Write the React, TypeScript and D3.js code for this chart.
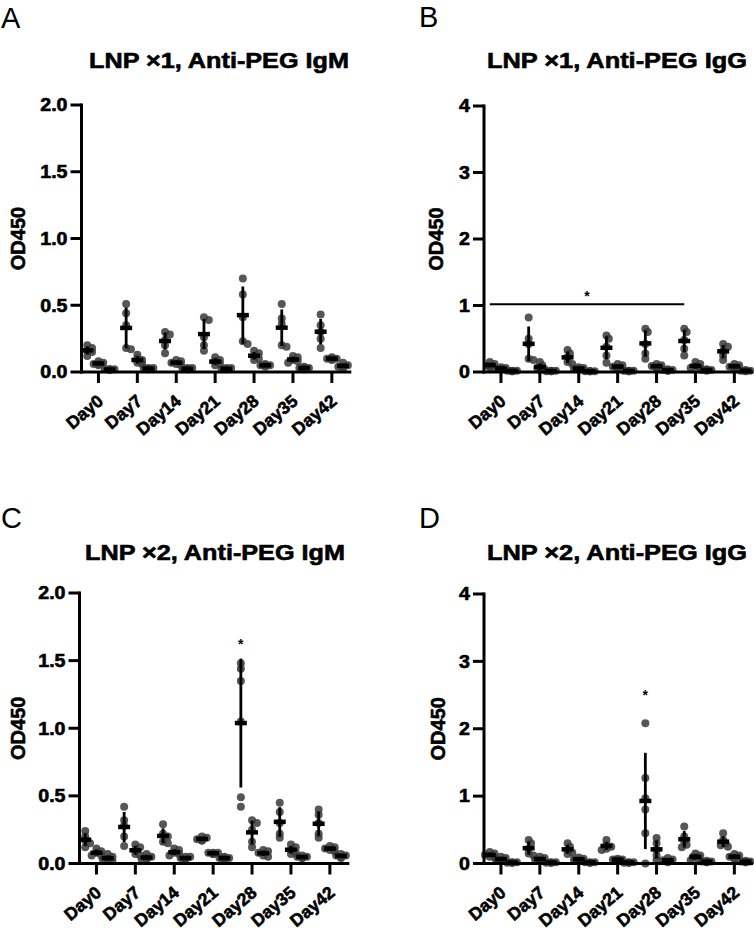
import React from "react";
import * as d3 from "d3";

const DAYS = ["Day0", "Day7", "Day14", "Day21", "Day28", "Day35", "Day42"];
const GROUPS = ["g1", "g2", "g3"];
const TICKS_IGM = [0, 0.5, 1.0, 1.5, 2.0];
const TICKS_IGG = [0, 1, 2, 3, 4];

// Panel A: LNP x1, Anti-PEG IgM
const A_G1 = [
  [0.2, 0.18, 0.16, 0.15, 0.12],
  [0.51, 0.44, 0.35, 0.18, 0.17],
  [0.3, 0.28, 0.24, 0.2, 0.14],
  [0.41, 0.39, 0.26, 0.2, 0.16],
  [0.7, 0.58, 0.41, 0.23, 0.21],
  [0.51, 0.4, 0.36, 0.2, 0.19],
  [0.43, 0.35, 0.3, 0.25, 0.18],
];
const A_G2 = [
  [0.08, 0.07, 0.06, 0.05, 0.06],
  [0.13, 0.1, 0.09, 0.07, 0.06],
  [0.09, 0.08, 0.07, 0.06, 0.05],
  [0.11, 0.09, 0.08, 0.06, 0.05],
  [0.16, 0.14, 0.12, 0.1, 0.09],
  [0.12, 0.11, 0.09, 0.08, 0.07],
  [0.11, 0.1, 0.1, 0.1, 0.09],
];
const A_G3 = [
  [0.02, 0.02, 0.02, 0.015, 0.02],
  [0.03, 0.03, 0.02, 0.03, 0.02],
  [0.03, 0.03, 0.02, 0.02, 0.02],
  [0.03, 0.02, 0.02, 0.03, 0.02],
  [0.06, 0.05, 0.05, 0.04, 0.05],
  [0.04, 0.03, 0.03, 0.03, 0.02],
  [0.07, 0.05, 0.04, 0.04, 0.03],
];

// Panel B: LNP x1, Anti-PEG IgG
const B_G1 = [
  [0.15, 0.12, 0.1, 0.08, 0.07],
  [0.82, 0.5, 0.42, 0.2, 0.18],
  [0.33, 0.28, 0.22, 0.15, 0.12],
  [0.55, 0.5, 0.38, 0.25, 0.14],
  [0.65, 0.6, 0.42, 0.28, 0.2],
  [0.65, 0.6, 0.48, 0.35, 0.25],
  [0.42, 0.38, 0.32, 0.25, 0.18],
];
const B_G2 = [
  [0.07, 0.06, 0.05, 0.04, 0.05],
  [0.15, 0.1, 0.06, 0.04, 0.03],
  [0.07, 0.06, 0.05, 0.04, 0.04],
  [0.12, 0.1, 0.08, 0.06, 0.05],
  [0.12, 0.1, 0.09, 0.07, 0.06],
  [0.15, 0.12, 0.08, 0.06, 0.05],
  [0.12, 0.1, 0.08, 0.07, 0.06],
];
const B_G3 = [
  [0.02, 0.02, 0.01, 0.02, 0.01],
  [0.02, 0.01, 0.01, 0.02, 0.01],
  [0.01, 0.01, 0.01, 0.01, 0.01],
  [0.02, 0.02, 0.01, 0.02, 0.01],
  [0.04, 0.03, 0.03, 0.02, 0.02],
  [0.04, 0.03, 0.03, 0.03, 0.02],
  [0.03, 0.02, 0.02, 0.02, 0.01],
];

// Panel C: LNP x2, Anti-PEG IgM
const C_G1 = [
  [0.24, 0.2, 0.17, 0.15, 0.12],
  [0.42, 0.32, 0.28, 0.2, 0.13],
  [0.29, 0.22, 0.2, 0.16, 0.15],
  [0.2, 0.19, 0.18, 0.17, 0.17],
  [1.48, 1.44, 1.35, 1.05, 0.49, 0.42],
  [0.45, 0.38, 0.3, 0.22, 0.19],
  [0.4, 0.36, 0.3, 0.22, 0.19],
];
const C_G2 = [
  [0.11, 0.09, 0.08, 0.06, 0.06],
  [0.14, 0.12, 0.1, 0.07, 0.06],
  [0.11, 0.1, 0.08, 0.07, 0.06],
  [0.08, 0.08, 0.08, 0.07, 0.07],
  [0.32, 0.3, 0.25, 0.16, 0.12],
  [0.14, 0.12, 0.1, 0.08, 0.07],
  [0.13, 0.12, 0.11, 0.1, 0.09],
];
const C_G3 = [
  [0.07, 0.05, 0.03, 0.03, 0.02],
  [0.07, 0.05, 0.04, 0.03, 0.03],
  [0.05, 0.05, 0.04, 0.03, 0.03],
  [0.05, 0.04, 0.04, 0.03, 0.04],
  [0.1, 0.09, 0.08, 0.06, 0.05],
  [0.06, 0.05, 0.05, 0.04, 0.04],
  [0.07, 0.06, 0.06, 0.05, 0.04],
];

// Panel D: LNP x2, Anti-PEG IgG
const D_G1 = [
  [0.17, 0.15, 0.13, 0.1, 0.09],
  [0.35, 0.3, 0.22, 0.15, 0.12],
  [0.3, 0.25, 0.2, 0.16, 0.14],
  [0.35, 0.28, 0.25, 0.22, 0.2],
  [2.08, 1.27, 0.97, 0.8, 0.45, 0.0],
  [0.55, 0.4, 0.33, 0.28, 0.24],
  [0.45, 0.35, 0.3, 0.27, 0.25],
];
const D_G2 = [
  [0.1, 0.08, 0.06, 0.05, 0.04],
  [0.1, 0.08, 0.06, 0.05, 0.04],
  [0.09, 0.07, 0.06, 0.05, 0.04],
  [0.07, 0.06, 0.06, 0.05, 0.05],
  [0.38, 0.3, 0.2, 0.12, 0.05],
  [0.15, 0.12, 0.1, 0.07, 0.05],
  [0.14, 0.12, 0.1, 0.08, 0.07],
];
const D_G3 = [
  [0.02, 0.02, 0.01, 0.01, 0.01],
  [0.02, 0.02, 0.01, 0.01, 0.01],
  [0.02, 0.02, 0.01, 0.02, 0.01],
  [0.02, 0.02, 0.01, 0.01, 0.01],
  [0.08, 0.06, 0.05, 0.03, 0.02],
  [0.04, 0.03, 0.03, 0.02, 0.02],
  [0.04, 0.03, 0.03, 0.02, 0.02],
];

// significance marks: bracket (B) and single stars (C, D)
const SIG_B = { from: "Day0", to: "Day35", y: 1.02 };
const STAR_C = { day: "Day28", y: 1.64 };
const STAR_D = { day: "Day28", y: 2.53 };

const TITLES = [
  "LNP \u00d71, Anti-PEG IgM",
  "LNP \u00d71, Anti-PEG IgG",
  "LNP \u00d72, Anti-PEG IgM",
  "LNP \u00d72, Anti-PEG IgG",
];
const LETTERS = ["A", "B", "C", "D"];

const FONT = "'Liberation Sans', Arial, Helvetica, sans-serif";
const DOT_R = 4;
const STEP = 38.9;

type Cfg = {
  x0: number; yTop: number; yBottom: number; yMax: number; ticks: number[]; fmt: string;
  labelX: number; titleX: number; titleY: number; letterX: number; letterY: number;
};

const CFG: Cfg[] = [
  { x0: 81.5, yTop: 105, yBottom: 372, yMax: 2, ticks: TICKS_IGM, fmt: ".1f", labelX: 17.5, titleX: 219, titleY: 68, letterX: 1, letterY: 28 },
  { x0: 484, yTop: 106, yBottom: 372, yMax: 4, ticks: TICKS_IGG, fmt: "d", labelX: 435.5, titleX: 617, titleY: 68, letterX: 419, letterY: 27 },
  { x0: 79.5, yTop: 593, yBottom: 863.5, yMax: 2, ticks: TICKS_IGM, fmt: ".1f", labelX: 17.5, titleX: 215, titleY: 560, letterX: 1, letterY: 528 },
  { x0: 484, yTop: 594, yBottom: 863.5, yMax: 4, ticks: TICKS_IGG, fmt: "d", labelX: 437.5, titleX: 617, titleY: 560, letterX: 419, letterY: 528 },
];

function swarm(vals: number[], y: (v: number) => number, r: number) {
  const pts = vals.map((v) => ({ v, py: y(v), dx: 0 })).sort((a, b) => a.py - b.py);
  const placed: { py: number; dx: number }[] = [];
  const minD = r * 1.0;
  for (const p of pts) {
    const s = r * 0.6;
    const cands = [0, s, -s, 2 * s, -2 * s];
    for (const c of cands) {
      const ok = placed.every((q) => Math.hypot(q.dx - c, q.py - p.py) >= minD);
      if (ok) { p.dx = c; break; }
    }
    placed.push({ py: p.py, dx: p.dx });
  }
  return pts;
}

const BOLD = { fontWeight: "bold" as const, stroke: "#000", strokeWidth: 0.6 };

function Panel({ idx, groups, sig, star }: { idx: number; groups: number[][][]; sig?: any; star?: any }) {
  const cfg = CFG[idx];
  const y = d3.scaleLinear().domain([0, cfg.yMax]).range([cfg.yBottom, cfg.yTop]);
  const x = d3.scaleBand().domain(DAYS).range([cfg.x0 - 2.5, cfg.x0 - 2.5 + DAYS.length * STEP]);
  const gx = d3.scalePoint().domain(GROUPS).range([-11.2, 11.2]);
  const fmt = d3.format(cfg.fmt);
  const cx = (d: string) => (x(d) as number) + x.bandwidth() / 2;
  const xe = Math.min(x.range()[1], 753);

  const dots: React.ReactNode[] = [];
  const bars: React.ReactNode[] = [];
  GROUPS.forEach((g, gi) => {
    DAYS.forEach((d, di) => {
      const vals = groups[gi][di];
      const px = cx(d) + (gx(g) as number);
      swarm(vals, y, DOT_R).forEach((p, k) => {
        dots.push(<circle key={`d${g}${d}${k}`} cx={px + p.dx} cy={p.py} r={DOT_R} fill="#3a3a3a" fillOpacity={0.85} />);
      });
      const m = d3.mean(vals) as number;
      const sd = (d3.deviation(vals) as number) || 0;
      const lo = Math.max(0, m - sd);
      const hi = m + sd;
      bars.push(
        <g key={`b${g}${d}`} stroke="#000">
          <line x1={px} x2={px} y1={y(lo)} y2={y(hi)} strokeWidth={2.8} />
          <line x1={px - 6} x2={px + 6} y1={y(m)} y2={y(m)} strokeWidth={4.5} />
        </g>
      );
    });
  });

  const g1x = (d: string) => cx(d) + (gx("g1") as number);

  return (
    <g fontFamily={FONT}>
      <text x={cfg.letterX} y={cfg.letterY} fontSize={29} fill="#000">{LETTERS[idx]}</text>
      <text x={cfg.titleX} y={cfg.titleY} fontSize={21.5} {...BOLD} textAnchor="middle"
        textLength={260} lengthAdjust="spacingAndGlyphs">{TITLES[idx]}</text>
      <text transform={`translate(${cfg.labelX},${(cfg.yTop + cfg.yBottom) / 2}) rotate(-90)`}
        fontSize={20} {...BOLD} textAnchor="middle" dy="0.36em">OD450</text>
      {dots}
      {bars}
      <line x1={cfg.x0} x2={cfg.x0} y1={cfg.yTop - 1.5} y2={cfg.yBottom + 1.5} stroke="#000" strokeWidth={3} />
      <line x1={cfg.x0 - 1.5} x2={xe} y1={cfg.yBottom} y2={cfg.yBottom} stroke="#000" strokeWidth={3} />
      {cfg.ticks.map((t) => (
        <g key={`yt${t}`}>
          <line x1={cfg.x0 - 11} x2={cfg.x0} y1={y(t)} y2={y(t)} stroke="#000" strokeWidth={3} />
          <text transform={`translate(${cfg.x0 - 14},${y(t)}) scale(1.12,1)`} fontSize={17.5} {...BOLD}
            textAnchor="end" dy="0.36em">{fmt(t)}</text>
        </g>
      ))}
      {DAYS.map((d) => (
        <g key={`xt${d}`}>
          <line x1={cx(d)} x2={cx(d)} y1={cfg.yBottom} y2={cfg.yBottom + 11} stroke="#000" strokeWidth={3} />
          <text transform={`translate(${cx(d) + 6},${cfg.yBottom + 31}) rotate(-40)`} fontSize={17.5}
            {...BOLD} textAnchor="end">{d}</text>
        </g>
      ))}
      {sig && (
        <g>
          <line x1={g1x(sig.from)} x2={g1x(sig.to)} y1={y(sig.y)} y2={y(sig.y)} stroke="#000" strokeWidth={2} />
          <text x={(g1x(sig.from) + g1x(sig.to)) / 2} y={y(sig.y) - 3} fontSize={14} fontWeight="bold"
            textAnchor="middle">*</text>
        </g>
      )}
      {star && (
        <text x={g1x(star.day)} y={y(star.y) + 7} fontSize={14} fontWeight="bold" textAnchor="middle">*</text>
      )}
    </g>
  );
}

export default function App() {
  return (
    <svg width={754} height={934} viewBox="0 0 754 934"
      style={{ position: "absolute", left: 0, top: 0, background: "#fff" }}>
      <rect width={754} height={934} fill="#fff" />
      <Panel idx={0} groups={[A_G1, A_G2, A_G3]} />
      <Panel idx={1} groups={[B_G1, B_G2, B_G3]} sig={SIG_B} />
      <Panel idx={2} groups={[C_G1, C_G2, C_G3]} star={STAR_C} />
      <Panel idx={3} groups={[D_G1, D_G2, D_G3]} star={STAR_D} />
    </svg>
  );
}
